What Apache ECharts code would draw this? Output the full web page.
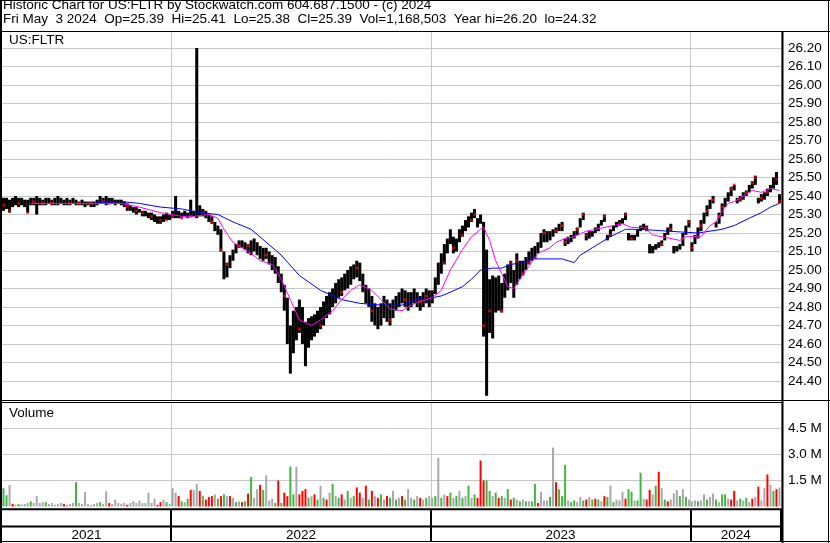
<!DOCTYPE html>
<html><head><meta charset="utf-8">
<script src="https://cdn.jsdelivr.net/npm/echarts@6/dist/echarts.min.js"></script>
<style>html,body{margin:0;padding:0;background:#fff}#c{width:830px;height:543px}</style>
</head><body><div id="c"></div>
<script>
// ---- data (each point = 3 trading days) ----
const years = ['2021', '2022', '2023', '2024'];

const low21 = [25.32,25.33,25.31,25.34,25.35,25.34,25.35,25.34,25.31,25.35, 25.35,25.30,25.35,25.35,25.35,25.36,25.35,25.35,25.35,25.36,
  25.35,25.35,25.35,25.36,25.35,25.35,25.35,25.34,25.35,25.34, 25.34,25.35,25.36,25.36,25.35,25.36,25.36,25.35,25.36,25.35,
  25.34,25.32,25.32,25.31,25.30,25.31,25.29,25.29,25.28,25.27, 25.26,25.25,25.25,25.26,25.27,25.27];
const high21 = [25.39,25.39,25.38,25.39,25.40,25.39,25.39,25.38,25.38,25.39, 25.39,25.40,25.39,25.38,25.39,25.39,25.38,25.39,25.40,25.39,
  25.38,25.39,25.38,25.39,25.38,25.37,25.38,25.37,25.37,25.37, 25.37,25.38,25.40,25.39,25.40,25.39,25.39,25.38,25.38,25.38,
  25.37,25.36,25.35,25.34,25.34,25.33,25.32,25.32,25.31,25.31, 25.30,25.29,25.29,25.30,25.31,25.30];

const low22 = [25.28,25.28,25.28,25.28,25.29,25.28,25.29,25.29,25.28,25.29, 25.29,25.28,25.26,25.25,25.21,25.19,25.10,24.95,24.96,25.01,
  25.05,25.09,25.12,25.12,25.11,25.09,25.08,25.10,25.08,25.06, 25.05,25.06,25.03,25.00,24.98,24.93,24.88,24.78,24.60,24.44,
  24.55,24.62,24.66,24.60,24.48,24.58,24.62,24.64,24.66,24.68, 24.70,24.74,24.76,24.80,24.82,24.85,24.86,24.89,24.90,24.92,
  24.95,24.96,24.94,24.88,24.82,24.80,24.72,24.70,24.68,24.70, 24.74,24.72,24.70,24.74,24.78,24.80,24.82,24.80,24.78,24.80,
  24.82,24.80,24.78,24.80,24.82,24.80];
const high22 = [25.32,25.40,25.32,25.31,25.32,25.31,25.38,25.32,26.20,25.35, 25.33,25.32,25.30,25.29,25.26,25.24,25.22,25.10,25.04,25.08,
  25.11,25.14,25.16,25.16,25.15,25.14,25.16,25.17,25.15,25.13, 25.12,25.12,25.10,25.08,25.07,25.02,24.98,24.92,24.85,24.70,
  24.78,24.80,24.84,24.80,24.72,24.74,24.75,24.76,24.78,24.80, 24.83,24.86,24.88,24.90,24.93,24.95,24.96,24.98,25.00,25.02,
  25.03,25.05,25.04,24.98,24.92,24.90,24.86,24.82,24.80,24.82, 24.86,24.84,24.82,24.84,24.86,24.88,24.90,24.89,24.88,24.88,
  24.90,24.88,24.86,24.88,24.90,24.89];

const low23 = [24.82,24.87,24.92,24.98,25.03,25.09,25.14,25.09,25.10,25.15, 25.18,25.21,25.23,25.26,25.28,25.23,25.25,24.64,24.32,24.66,
  24.63,24.77,24.78,24.77,24.85,24.89,24.93,24.85,24.92,24.95, 24.97,25.00,25.03,25.05,25.06,25.09,25.12,25.15,25.15,25.16,
  25.18,25.20,25.21,25.21,25.13,25.14,25.15,25.17,25.19,25.23, 25.27,25.16,25.17,25.18,25.20,25.21,25.24,25.26,25.16,25.18,
  25.21,25.23,25.24,25.25,25.27,25.16,25.16,25.16,25.18,25.21, 25.22,25.21,25.09,25.09,25.11,25.12,25.13,25.16,25.19,25.21,
  25.09,25.10,25.11,25.13,25.19,25.23];
const high23 = [24.89,24.96,25.04,25.09,25.14,25.17,25.22,25.18,25.17,25.22, 25.24,25.27,25.29,25.31,25.33,25.28,25.30,25.26,25.11,24.95,
  24.97,24.96,24.97,24.93,24.98,25.03,25.05,25.00,25.09,25.05, 25.05,25.07,25.10,25.12,25.13,25.15,25.20,25.22,25.21,25.21,
  25.22,25.23,25.25,25.26,25.17,25.18,25.19,25.21,25.23,25.28, 25.31,25.20,25.21,25.21,25.23,25.25,25.27,25.30,25.19,25.22,
  25.24,25.26,25.27,25.28,25.31,25.20,25.19,25.19,25.22,25.24, 25.25,25.24,25.14,25.13,25.14,25.15,25.16,25.20,25.23,25.25,
  25.13,25.13,25.14,25.20,25.24,25.27];

const low24 = [25.10,25.14,25.17,25.21,25.25,25.29,25.33,25.36,25.23,25.25, 25.29,25.34,25.37,25.40,25.43,25.36,25.37,25.38,25.40,25.42,
  25.44,25.46,25.36,25.37,25.38,25.40,25.42,25.44,25.46,25.36];
const high24 = [25.15,25.19,25.23,25.27,25.31,25.35,25.38,25.40,25.26,25.31, 25.36,25.39,25.42,25.45,25.46,25.39,25.40,25.42,25.43,25.46,
  25.48,25.51,25.39,25.41,25.42,25.44,25.46,25.50,25.53,25.41];

// red close ticks [point index, price]
const redTicks = [[0,25.35],[2,25.32],[5,25.36],[8,25.31],[10,25.37],[13,25.36],[16,25.36],[22,25.36],[25,25.36],[29,25.36],
  [33,25.37],[35,25.36],[41,25.34],[44,25.32],[46,25.31],[49,25.29],[52,25.27],[54,25.27],[56,25.29],[59,25.28],[62,25.29],
  [66,25.31],[69,25.26],[72,25.11],[74,25.03],[78,25.13],[81,25.13],[87,25.08],[93,24.86],[98,24.68],[105,24.70],[112,24.88],
  [117,25.01],[122,24.78],[128,24.73],[133,24.84],[138,24.83],[140,24.86],[146,25.04],[149,25.12],[152,25.19],[155,25.27],
  [156,25.30],[159,24.70],[161,24.78],[165,24.78],[168,25.04],[170,25.05],[172,24.98],[174,25.04],[179,25.20],[183,25.21],
  [185,25.24],[186,25.15],[190,25.22],[192,25.30],[193,25.19],[199,25.29],[201,25.19],[204,25.25],[206,25.30],[208,25.17],
  [213,25.23],[218,25.14],[221,25.22],[225,25.17],[227,25.26],[228,25.12],[231,25.24],[233,25.32],[235,25.38],[237,25.29],
  [238,25.34],[241,25.44],[242,25.46],[244,25.38],[246,25.42],[248,25.47],[249,25.50],[251,25.39],[253,25.42],[256,25.49],[257,25.37]];

// moving averages [point index, price]
const maFast = [[9,25.36],[29,25.36],[39,25.36],[45,25.34],[52,25.31],[59,25.29],[63,25.29],[68,25.30],[71,25.28],[73,25.22],
  [76,25.15],[80,25.11],[82,25.09],[85,25.05],[89,25.03],[92,24.95],[95,24.84],[98,24.73],[102,24.70],[105,24.73],[109,24.78],
  [112,24.84],[115,24.89],[118,24.92],[122,24.89],[125,24.84],[128,24.79],[132,24.78],[135,24.81],[138,24.83],[142,24.85],
  [145,24.89],[148,25.00],[152,25.11],[155,25.18],[158,25.22],[159,25.23],[161,25.16],[163,25.05],[165,24.98],[167,24.91],
  [169,24.90],[171,24.95],[174,25.02],[177,25.09],[181,25.12],[183,25.15],[186,25.17],[189,25.18],[193,25.21],[196,25.22],
  [199,25.23],[202,25.24],[205,25.25],[208,25.23],[212,25.23],[215,25.19],[218,25.18],[224,25.16],[226,25.18],[231,25.18],
  [234,25.24],[236,25.26],[238,25.32],[240,25.36],[242,25.37],[244,25.39],[247,25.42],[248,25.43],[251,25.42],[254,25.44],[257,25.43]];
const maSlow = [[29,25.36],[39,25.37],[45,25.36],[52,25.34],[59,25.33],[65,25.31],[71,25.30],[76,25.26],[82,25.22],[92,25.08],
  [98,24.97],[105,24.89],[112,24.84],[118,24.82],[125,24.81],[132,24.81],[138,24.85],[142,24.85],[145,24.86],[148,24.88],
  [152,24.91],[155,24.95],[158,25.00],[162,25.01],[165,25.01],[168,25.03],[172,25.04],[175,25.06],[178,25.06],[185,25.06],
  [187,25.05],[189,25.04],[191,25.08],[195,25.12],[198,25.15],[201,25.18],[206,25.22],[211,25.22],[220,25.21],[230,25.20],
  [234,25.21],[238,25.22],[242,25.24],[247,25.28],[251,25.31],[254,25.34],[257,25.36]];

// volume (millions) and day direction: u = up, d = down, n = unchanged
const vol21 = [1.06,0.65,1.23,0.15,0.1,0.15,0.12,0.15,0.2,0.3, 0.2,0.6,0.2,0.25,0.25,0.15,0.2,0.1,0.15,0.2,
  0.15,0.1,0.15,0.2,1.4,0.2,0.15,0.83,0.15,0.1, 0.15,0.2,0.25,0.15,0.88,0.2,0.15,0.4,0.2,0.15,
  0.2,0.1,0.2,0.3,0.2,0.35,0.2,0.2,0.8,0.2, 0.45,0.1,0.25,0.4,0.25,0.15];
const dir21 = 'uundnunnnu' + 'nnnnunnnnn' + 'dnnnunnnnn' + 'nnunndnnnn' + 'ndnnnnnnnn' + 'nddnun';
const vol22 = [1.06,0.8,0.6,0.3,0.25,0.45,0.96,0.96,1.3,0.9, 0.6,0.4,0.55,0.6,0.7,0.45,0.6,0.7,0.6,0.6,
  0.5,0.25,0.3,0.25,0.3,0.75,1.7,0.5,1.0,1.25, 0.96,1.8,0.35,0.45,0.2,1.5,0.2,0.8,0.6,2.3,
  0.7,2.3,0.7,0.9,1.0,0.5,0.6,0.7,0.4,1.2, 0.5,0.4,0.8,1.3,0.6,0.5,0.7,0.4,0.9,0.5,
  0.6,1.1,0.8,0.5,1.2,0.4,0.9,0.6,0.5,0.7, 0.4,0.6,0.5,0.9,0.4,0.5,0.6,0.4,1.0,0.5, 0.4,0.6,0.5,0.4,0.5,0.6];
const dir22 = 'nndunudnnd' + 'udddnudund' + 'nundudunnd' + 'unnnududdu' + 'undddundun' + 'udnunudnun' + 'uddndudndu' + 'ndunundunn' + 'undnun';
const vol23 = [0.5,0.6,2.8,0.5,0.7,0.6,0.8,0.5,0.6,0.9, 0.5,0.6,1.2,0.5,0.7,0.5,2.65,1.5,1.5,0.9,
  0.6,0.8,0.5,0.6,0.5,1.0,0.4,0.5,0.4,0.3, 0.4,0.3,0.3,0.3,1.3,0.2,0.85,0.35,0.35,0.55,
  3.4,1.4,1.0,0.6,2.4,0.35,0.25,0.35,0.25,0.55, 0.35,0.4,0.55,0.4,0.45,0.4,0.3,0.6,0.55,1.2,
  0.25,0.4,0.35,0.85,0.45,1.0,0.85,0.35,0.35,1.95, 0.45,0.4,0.95,0.7,1.2,2.0,1.05,0.4,0.3,0.4, 0.75,0.95,0.6,1.0,0.55,0.4];
const dir23 = 'nunundunun' + 'ununuddduu' + 'nudunudunu' + 'nunuudnnnu' + 'nduuunuunn' + 'udnudundun' + 'unnnduunuu' + 'nddnudnudn' + 'nnunun';
const vol24 = [0.3,0.35,0.3,0.35,0.7,0.4,0.55,0.75,0.4,0.25, 0.7,0.7,0.45,0.4,0.9,0.35,0.45,0.35,0.5,0.25,
  0.45,0.55,1.15,0.35,1.05,1.85,1.25,0.9,1.0,1.1];
const dir24 = 'nnunnunnun' + 'uunddnunun' + 'dndnndnudn';

// ---- assembly ----
const lows = [].concat(low21, low22, low23, low24);
const highs = [].concat(high21, high22, high23, high24);
const vols = [].concat(vol21, vol22, vol23, vol24);
const dirs = (dir21 + dir22 + dir23 + dir24).split('');
const yearLens = [low21.length, low22.length, low23.length, low24.length];
const cats = [];
const yearSpans = [];
years.forEach((y, k) => {
  yearSpans.push([cats.length, cats.length + yearLens[k] - 1, k]);
  for (let j = 0; j < yearLens[k]; j++) cats.push(y);
});

const FONT = '"Liberation Sans", Arial, sans-serif';
const dirColor = { u: '#44b444', d: '#ff0000', n: '#a8a8a8' };
const isYearStart = (i) => i > 0 && cats[i] !== cats[i - 1];

function xAxisFor(gi, color, width) {
  return {
    type: 'category', gridIndex: gi, data: cats, boundaryGap: true,
    axisLine: { show: false }, axisTick: { show: false }, axisLabel: { show: false },
    splitLine: { show: true, interval: (i) => isYearStart(i), lineStyle: { color: color, width: width } }
  };
}
function hiddenY(gi) {
  return { type: 'value', gridIndex: gi, show: false, min: 0, max: 1, splitLine: { show: false } };
}

const chart = echarts.init(document.getElementById('c'), null, { renderer: 'canvas' });
const line = (x1, y1, x2, y2, w) => ({ type: 'line', z: 100, shape: { x1, y1, x2, y2 }, style: { stroke: '#000', lineWidth: w || 1 } });
const txt = (x, y, s) => ({ type: 'text', z: 100, x, y, style: { text: s, fill: '#000', font: '13.5px ' + FONT, align: 'left', verticalAlign: 'middle' } });

chart.setOption({
  animation: false,
  backgroundColor: '#fff',
  grid: [
    { left: 2, top: 29.5, width: 779, height: 370 },
    { left: 2, top: 402.5, width: 779, height: 104 },
    { left: 2, top: 510, width: 779, height: 16 },
    { left: 2, top: 527, width: 779, height: 15 }
  ],
  xAxis: [xAxisFor(0, '#c8c8c8', 1), xAxisFor(1, '#c8c8c8', 1), xAxisFor(2, '#000', 2), xAxisFor(3, '#000', 2)],
  yAxis: [
    {
      type: 'value', gridIndex: 0, position: 'right', min: 24.3, max: 26.3, interval: 0.1,
      axisLine: { show: false }, axisTick: { show: false },
      axisLabel: { margin: 7, color: '#000', fontFamily: FONT, fontSize: 13.5,
        formatter: (v) => (v < 24.35 || v > 26.25) ? '' : v.toFixed(2) },
      splitLine: { lineStyle: { color: '#c8c8c8' }, showMinLine: false, showMaxLine: false }
    },
    {
      type: 'value', gridIndex: 1, position: 'right', min: 0, max: 6e6, interval: 1.5e6,
      axisLine: { show: false }, axisTick: { show: false },
      axisLabel: { margin: 7, color: '#000', fontFamily: FONT, fontSize: 13.5,
        formatter: (v) => (v < 1 || v > 5.9e6) ? '' : (v / 1e6).toFixed(1) + ' M' },
      splitLine: { lineStyle: { color: '#c8c8c8' }, showMinLine: false, showMaxLine: false }
    },
    hiddenY(2), hiddenY(3)
  ],
  series: [
    {
      type: 'custom', xAxisIndex: 0, yAxisIndex: 0, z: 2,
      data: lows.map((lo, k) => [k, lo, highs[k]]),
      encode: { x: 0, y: [1, 2] },
      renderItem: (params, api) => {
        const i = api.value(0);
        const a = api.coord([i, api.value(1)]);
        const b = api.coord([i, api.value(2)]);
        const w = api.size([1, 0])[0];
        return { type: 'rect', shape: { x: a[0] - w / 2, y: b[1], width: w, height: Math.max(1.5, a[1] - b[1]) }, style: { fill: '#000' } };
      }
    },
    {
      type: 'scatter', xAxisIndex: 0, yAxisIndex: 0, z: 3, symbol: 'rect', symbolSize: [2.5, 2.5],
      itemStyle: { color: '#ff0000' }, data: redTicks, silent: true
    },
    {
      type: 'line', xAxisIndex: 0, yAxisIndex: 0, z: 4, data: maSlow, symbol: 'none', silent: true,
      lineStyle: { color: '#0000ff', width: 1 }
    },
    {
      type: 'line', xAxisIndex: 0, yAxisIndex: 0, z: 5, data: maFast, symbol: 'none', silent: true,
      lineStyle: { color: '#ff00ff', width: 1 }
    },
    {
      type: 'bar', xAxisIndex: 1, yAxisIndex: 1, barWidth: 2, silent: true,
      data: vols.map((v, k) => ({ value: v * 1e6, itemStyle: { color: dirColor[dirs[k]] } }))
    },
    {
      type: 'custom', xAxisIndex: 3, yAxisIndex: 3, silent: true,
      data: yearSpans,
      renderItem: (params, api) => {
        const a = api.coord([api.value(0), 0]);
        const b = api.coord([api.value(1), 0]);
        const w = api.size([1, 0])[0];
        const cs = params.coordSys;
        return { type: 'text', x: (a[0] - w / 2 + b[0] + w / 2) / 2, y: cs.y + cs.height / 2 + 0.5,
          style: { text: years[api.value(2)], fill: '#000', font: '13.5px ' + FONT, align: 'center', verticalAlign: 'middle' } };
      }
    }
  ],
  graphic: [
    { type: 'rect', z: 99, shape: { x: 0, y: 0, width: 830, height: 31 }, style: { fill: '#fff' } },
    txt(3, 5.5, 'Historic Chart for US:FLTR by Stockwatch.com 604.687.1500 - (c) 2024'),
    txt(3, 19, 'Fri May  3 2024  Op=25.39  Hi=25.41  Lo=25.38  Cl=25.39  Vol=1,168,503  Year hi=26.20  lo=24.32'),
    txt(9, 40.5, 'US:FLTR'),
    txt(9, 413.5, 'Volume'),
    line(0, 0.5, 830, 0.5),
    line(0, 31.5, 830, 31.5),
    line(828.5, 0, 828.5, 543),
    line(0, 541.5, 830, 541.5),
    line(1, 0, 1, 543, 2),
    line(782.5, 31, 782.5, 543, 2),
    line(0, 400.5, 830, 400.5),
    line(0, 402.5, 782, 402.5),
    line(0, 509.3, 782, 509.3, 2),
    line(0, 526.5, 782, 526.5, 2)
  ]
});
</script>
</body></html>
